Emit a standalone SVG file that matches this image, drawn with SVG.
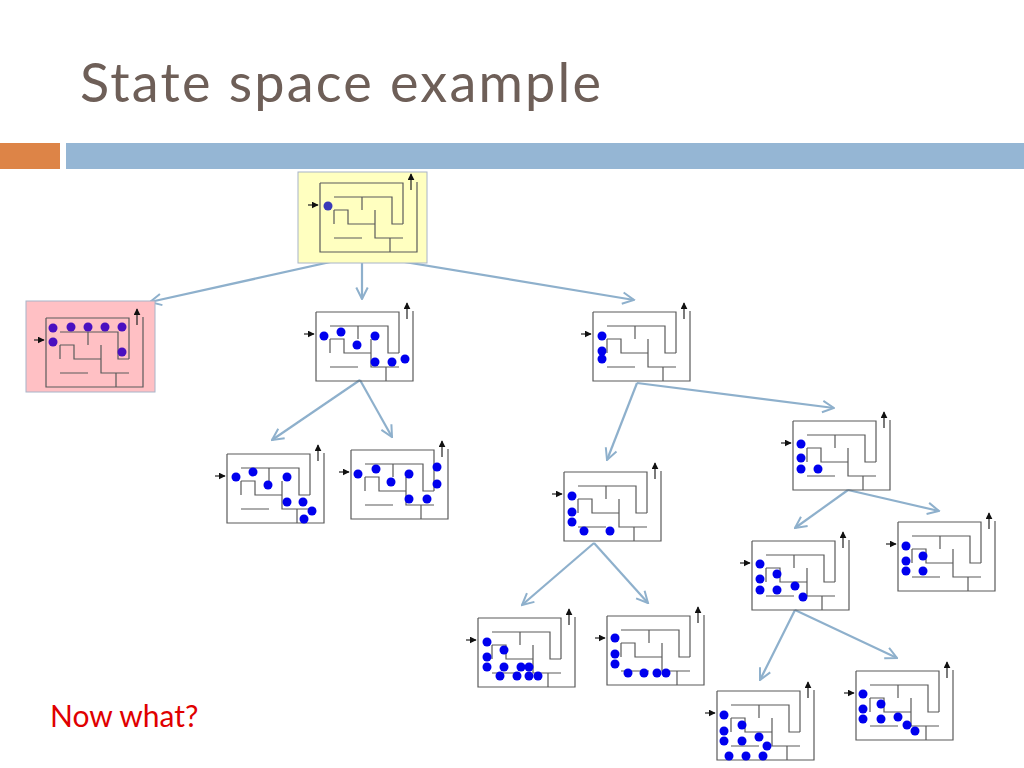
<svg xmlns="http://www.w3.org/2000/svg" xmlns:xlink="http://www.w3.org/1999/xlink" width="1024" height="768" viewBox="0 0 1024 768">
<style>
.w{fill:none;stroke:#5a5a5a;stroke-width:1.2}
.ar{fill:none;stroke:#222;stroke-width:1.2}
.c{fill:none;stroke:#8eb0cc;stroke-width:2.2}
.d{fill:#0000ee}
.p{fill:#4a10c0}
</style>
<defs>
<marker id="ah" viewBox="0 0 10 10" refX="9" refY="5" markerWidth="6.5" markerHeight="6.5" orient="auto"><path d="M1,1 L9,5 L1,9" fill="none" stroke="#8eb0cc" stroke-width="1.4"/></marker>
<marker id="bh" viewBox="0 0 10 10" refX="9" refY="5" markerWidth="7" markerHeight="7" markerUnits="userSpaceOnUse" orient="auto"><path d="M0,0 L10,5 L0,10 Z" fill="#111"/></marker>
<g id="maze">
<path class="w" d="M0,0 V69 H97 V-1 M0,0 H83 V41 M14,14 H72 V41 H83 M42,14 V27 M14,27 V41 M14,27 H28 V41 H55 M55,27 V55 H83 M70,55 V69 M14,55 H42"/>
<path class="ar" d="M91,7 V-9" marker-end="url(#bh)"/>
<path class="ar" d="M-12,22 H-2" marker-end="url(#bh)"/>
</g>
</defs>
<rect width="1024" height="768" fill="#fff"/>
<text x="80" y="102" font-family="Lato, 'Liberation Sans', sans-serif" font-size="54" letter-spacing="2.2" fill="#6e5f58">State space example</text>
<rect x="0" y="143" width="60" height="26" fill="#dd8447"/>
<rect x="66" y="143" width="958" height="26" fill="#95b6d4"/>
<g id="connectors">
<path class="c" marker-end="url(#ah)" d="M362,255 L150,302"/>
<path class="c" marker-end="url(#ah)" d="M362,255 L362,299"/>
<path class="c" marker-end="url(#ah)" d="M362,255 L634,300"/>
<path class="c" marker-end="url(#ah)" d="M360,380 L272,440"/>
<path class="c" marker-end="url(#ah)" d="M360,380 L392,437"/>
<path class="c" marker-end="url(#ah)" d="M637,383 L607,460"/>
<path class="c" marker-end="url(#ah)" d="M637,383 L834,408"/>
<path class="c" marker-end="url(#ah)" d="M848,490 L795,528"/>
<path class="c" marker-end="url(#ah)" d="M848,490 L939,511"/>
<path class="c" marker-end="url(#ah)" d="M594,543 L522,605"/>
<path class="c" marker-end="url(#ah)" d="M594,543 L648,603"/>
<path class="c" marker-end="url(#ah)" d="M795,610 L760,680"/>
<path class="c" marker-end="url(#ah)" d="M795,610 L897,658"/>
</g>
<g id="root">
<rect x="298" y="172" width="129" height="91" fill="#ffffc0" stroke="#a8b4c8"/>
<use xlink:href="#maze" href="#maze" x="320" y="183"/>
<circle cx="328" cy="206" r="4.5" fill="#3a3ab8"/>
</g>
<g id="pink">
<rect x="26" y="301" width="129" height="91" fill="#ffc0c4" stroke="#a8b4c8"/>
<use xlink:href="#maze" href="#maze" x="46" y="318"/>
<g class="p" transform="translate(46,318)"><circle cx="7" cy="10" r="4.5"/><circle cx="25" cy="9" r="4.5"/><circle cx="42" cy="9" r="4.5"/><circle cx="59" cy="9" r="4.5"/><circle cx="76" cy="9" r="4.5"/><circle cx="7" cy="24" r="4.5"/><circle cx="76" cy="34" r="4.5"/></g>
</g>
<g id="A"><use xlink:href="#maze" href="#maze" x="316" y="312"/>
<g class="d" transform="translate(316,312)"><circle cx="8" cy="24" r="4.5"/><circle cx="25" cy="20" r="4.5"/><circle cx="41" cy="33" r="4.5"/><circle cx="59" cy="24" r="4.5"/><circle cx="59" cy="50" r="4.5"/><circle cx="76" cy="50" r="4.5"/><circle cx="89" cy="47" r="4.5"/></g></g>
<g id="B"><use xlink:href="#maze" href="#maze" x="593" y="312"/>
<g class="d" transform="translate(593,312)"><circle cx="9" cy="24" r="4.5"/><circle cx="9" cy="39" r="4.5"/><circle cx="9" cy="47" r="4.5"/></g></g>
<g id="C"><use xlink:href="#maze" href="#maze" x="227" y="454"/>
<g class="d" transform="translate(227,454)"><circle cx="9" cy="23" r="4.5"/><circle cx="26" cy="18" r="4.5"/><circle cx="41" cy="31" r="4.5"/><circle cx="60" cy="23" r="4.5"/><circle cx="60" cy="48" r="4.5"/><circle cx="76" cy="48" r="4.5"/><circle cx="85" cy="57" r="4.5"/><circle cx="77" cy="65" r="4.5"/></g></g>
<g id="D"><use xlink:href="#maze" href="#maze" x="351" y="450"/>
<g class="d" transform="translate(351,450)"><circle cx="7" cy="24" r="4.5"/><circle cx="25" cy="19" r="4.5"/><circle cx="40" cy="32" r="4.5"/><circle cx="58" cy="24" r="4.5"/><circle cx="58" cy="49" r="4.5"/><circle cx="76" cy="49" r="4.5"/><circle cx="86" cy="17" r="4.5"/><circle cx="86" cy="34" r="4.5"/></g></g>
<g id="E"><use xlink:href="#maze" href="#maze" x="793" y="421"/>
<g class="d" transform="translate(793,421)"><circle cx="8" cy="23" r="4.5"/><circle cx="8" cy="37" r="4.5"/><circle cx="8" cy="48" r="4.5"/><circle cx="25" cy="48" r="4.5"/></g></g>
<g id="F"><use xlink:href="#maze" href="#maze" x="898" y="522"/>
<g class="d" transform="translate(898,522)"><circle cx="8" cy="24" r="4.5"/><circle cx="8" cy="39" r="4.5"/><circle cx="8" cy="49" r="4.5"/><circle cx="25" cy="34" r="4.5"/><circle cx="25" cy="49" r="4.5"/></g></g>
<g id="G"><use xlink:href="#maze" href="#maze" x="564" y="472"/>
<g class="d" transform="translate(564,472)"><circle cx="8" cy="24" r="4.5"/><circle cx="8" cy="40" r="4.5"/><circle cx="8" cy="50" r="4.5"/><circle cx="20" cy="59" r="4.5"/><circle cx="46" cy="59" r="4.5"/></g></g>
<g id="J"><use xlink:href="#maze" href="#maze" x="752" y="541"/>
<g class="d" transform="translate(752,541)"><circle cx="8" cy="23" r="4.5"/><circle cx="8" cy="38" r="4.5"/><circle cx="25" cy="33" r="4.5"/><circle cx="8" cy="49" r="4.5"/><circle cx="25" cy="49" r="4.5"/><circle cx="43" cy="45" r="4.5"/><circle cx="51" cy="56" r="4.5"/></g></g>
<g id="H"><use xlink:href="#maze" href="#maze" x="478" y="618"/>
<g class="d" transform="translate(478,618)"><circle cx="9" cy="24" r="4.5"/><circle cx="26" cy="32" r="4.5"/><circle cx="9" cy="39" r="4.5"/><circle cx="9" cy="49" r="4.5"/><circle cx="26" cy="49" r="4.5"/><circle cx="43" cy="49" r="4.5"/><circle cx="51" cy="49" r="4.5"/><circle cx="22" cy="58" r="4.5"/><circle cx="39" cy="58" r="4.5"/><circle cx="51" cy="58" r="4.5"/><circle cx="60" cy="58" r="4.5"/></g></g>
<g id="I"><use xlink:href="#maze" href="#maze" x="607" y="616"/>
<g class="d" transform="translate(607,616)"><circle cx="8" cy="22" r="4.5"/><circle cx="8" cy="38" r="4.5"/><circle cx="8" cy="48" r="4.5"/><circle cx="21" cy="57" r="4.5"/><circle cx="37" cy="57" r="4.5"/><circle cx="50" cy="57" r="4.5"/><circle cx="59" cy="57" r="4.5"/></g></g>
<g id="K"><use xlink:href="#maze" href="#maze" x="717" y="691"/>
<g class="d" transform="translate(717,691)"><circle cx="7" cy="24" r="4.5"/><circle cx="25" cy="34" r="4.5"/><circle cx="7" cy="40" r="4.5"/><circle cx="7" cy="50" r="4.5"/><circle cx="25" cy="50" r="4.5"/><circle cx="42" cy="46" r="4.5"/><circle cx="50" cy="55" r="4.5"/><circle cx="12" cy="65" r="4.5"/><circle cx="29" cy="65" r="4.5"/><circle cx="46" cy="65" r="4.5"/></g></g>
<g id="L"><use xlink:href="#maze" href="#maze" x="856" y="671"/>
<g class="d" transform="translate(856,671)"><circle cx="7" cy="23" r="4.5"/><circle cx="25" cy="33" r="4.5"/><circle cx="7" cy="38" r="4.5"/><circle cx="7" cy="48" r="4.5"/><circle cx="25" cy="48" r="4.5"/><circle cx="42" cy="46" r="4.5"/><circle cx="51" cy="54" r="4.5"/><circle cx="59" cy="60" r="4.5"/></g></g>
<text x="50" y="727" font-family="Lato, 'Liberation Sans', sans-serif" font-size="30" fill="#e00000">Now what?</text>
</svg>
